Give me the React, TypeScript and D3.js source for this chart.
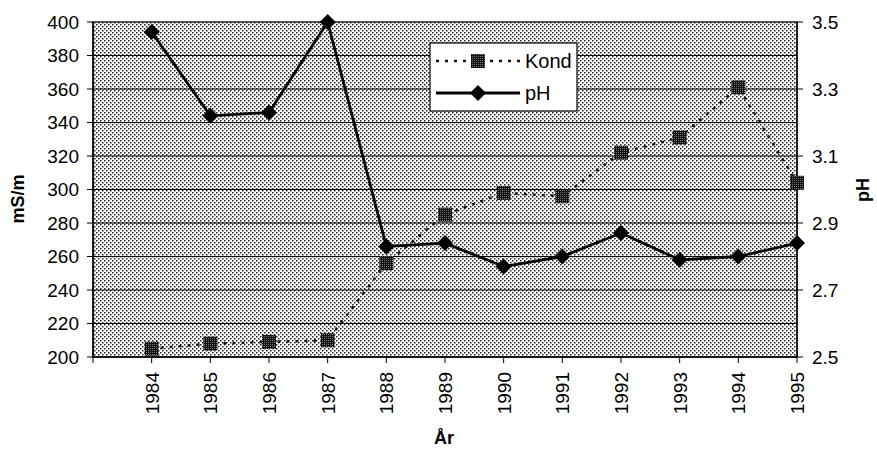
import * as d3 from 'd3';

// years on the category axis
const years = [1984, 1985, 1986, 1987, 1988, 1989, 1990, 1991, 1992, 1993, 1994, 1995];
// conductivity, mS/m (left axis)
const kond = [205, 208, 209, 210, 256, 285, 298, 296, 322, 331, 361, 304];
// pH (right axis)
const ph = [3.47, 3.22, 3.23, 3.5, 2.83, 2.84, 2.77, 2.8, 2.87, 2.79, 2.8, 2.84];

const leftTicks = [200, 220, 240, 260, 280, 300, 320, 340, 360, 380, 400];
const rightTicks = [2.5, 2.7, 2.9, 3.1, 3.3, 3.5];

const W = 877;
const H = 450;
const m = { top: 22, right: 80, bottom: 93, left: 93 };
const font = '"Liberation Sans", Arial, Helvetica, sans-serif';

export default function App() {
  const x = d3.scaleLinear().domain([1983, 1995]).range([m.left, W - m.right]);
  const yL = d3.scaleLinear().domain([200, 400]).range([H - m.bottom, m.top]);
  const yR = d3.scaleLinear().domain([2.5, 3.5]).range([H - m.bottom, m.top]);

  const kondLine = d3
    .line<number>()
    .x((_, i) => x(years[i]))
    .y((d) => yL(d));
  const phLine = d3
    .line<number>()
    .x((_, i) => x(years[i]))
    .y((d) => yR(d));

  const x0 = m.left;
  const x1 = W - m.right;
  const y0 = H - m.bottom;
  const y1 = m.top;
  const sq = 14;
  const dia = 8;
  const diamond = (cx: number, cy: number) =>
    `M${cx},${cy - dia}L${cx + dia},${cy}L${cx},${cy + dia}L${cx - dia},${cy}Z`;

  const lgX = 430;
  const lgY = 43;

  return (
    <svg
      width={W}
      height={H}
      style={{ position: 'absolute', left: 0, top: 0, background: '#fff' }}
      fontFamily={font}
    >
      <defs>
        <pattern id="bg" width="4" height="4" patternUnits="userSpaceOnUse">
          <rect width="4" height="4" fill="#fff" />
          <rect x="0" y="0" width="1.5" height="1.5" fill="#222" />
          <rect x="2" y="2" width="1.5" height="1.5" fill="#222" />
        </pattern>
        <pattern id="mk" width="2" height="2" patternUnits="userSpaceOnUse">
          <rect width="2" height="2" fill="#111" />
          <rect x="0" y="0" width="1" height="1" fill="#777" />
        </pattern>
      </defs>

      {/* plot area */}
      <rect x={x0} y={y1} width={x1 - x0} height={y0 - y1} fill="url(#bg)" />
      {leftTicks.slice(1, -1).map((t) => (
        <line key={t} x1={x0} x2={x1} y1={yL(t)} y2={yL(t)} stroke="#000" strokeWidth={1.2} />
      ))}
      <rect x={x0} y={y1} width={x1 - x0} height={y0 - y1} fill="none" stroke="#222" strokeWidth={1.5} />

      {/* left axis */}
      <line x1={x0} x2={x0} y1={y1} y2={y0} stroke="#000" strokeWidth={1.4} />
      {leftTicks.map((t) => (
        <g key={t}>
          <line x1={x0 - 6} x2={x0} y1={yL(t)} y2={yL(t)} stroke="#000" />
          <text x={79} y={yL(t)} dy="0.36em" textAnchor="end" fontSize={19}>
            {t}
          </text>
        </g>
      ))}
      <text
        transform={`translate(24,199) rotate(-90)`}
        textAnchor="middle"
        fontSize={18}
        fontWeight="bold"
      >
        mS/m
      </text>

      {/* right axis */}
      <line x1={x1} x2={x1} y1={y1} y2={y0} stroke="#000" strokeWidth={1.2} />
      {rightTicks.map((t) => (
        <g key={t}>
          <line x1={x1} x2={x1 + 6} y1={yR(t)} y2={yR(t)} stroke="#000" />
          <text x={812} y={yR(t)} dy="0.36em" textAnchor="start" fontSize={19}>
            {t.toFixed(1)}
          </text>
        </g>
      ))}
      <text
        transform={`translate(869,190) rotate(-90)`}
        textAnchor="middle"
        fontSize={18}
        fontWeight="bold"
      >
        pH
      </text>

      {/* x axis */}
      <line x1={x0} x2={x1} y1={y0} y2={y0} stroke="#000" strokeWidth={1.4} />
      {[1983, ...years].map((yr) => (
        <line key={yr} x1={x(yr)} x2={x(yr)} y1={y0} y2={y0 + 6} stroke="#000" />
      ))}
      {years.map((yr) => (
        <text
          key={yr}
          transform={`translate(${x(yr)},${y0 + 15}) rotate(-90)`}
          textAnchor="end"
          dy="0.36em"
          fontSize={19}
        >
          {yr}
        </text>
      ))}
      <text x={444} y={444} textAnchor="middle" fontSize={18} fontWeight="bold">
        År
      </text>

      {/* Kond series */}
      <path
        d={kondLine(kond) ?? ''}
        fill="none"
        stroke="#111"
        strokeWidth={2.5}
        strokeDasharray="3,6"
      />
      {kond.map((v, i) => (
        <rect
          key={i}
          x={x(years[i]) - sq / 2}
          y={yL(v) - sq / 2}
          width={sq}
          height={sq}
          fill="url(#mk)"
        />
      ))}

      {/* pH series */}
      <path d={phLine(ph) ?? ''} fill="none" stroke="#000" strokeWidth={2.8} strokeLinejoin="round" />
      {ph.map((v, i) => (
        <path key={i} d={diamond(x(years[i]), yR(v))} fill="#000" />
      ))}

      {/* legend */}
      <rect x={lgX} y={lgY} width={147} height={68} fill="#fff" stroke="#000" strokeWidth={1.2} />
      <line
        x1={lgX + 6}
        x2={lgX + 90}
        y1={lgY + 18}
        y2={lgY + 18}
        stroke="#111"
        strokeWidth={2.5}
        strokeDasharray="3,6"
      />
      <rect x={lgX + 48 - sq / 2} y={lgY + 18 - sq / 2} width={sq} height={sq} fill="url(#mk)" />
      <text x={lgX + 95} y={lgY + 18} dy="0.36em" fontSize={20}>
        Kond
      </text>
      <line x1={lgX + 6} x2={lgX + 90} y1={lgY + 50} y2={lgY + 50} stroke="#000" strokeWidth={2.8} />
      <path d={diamond(lgX + 48, lgY + 50)} fill="#000" />
      <text x={lgX + 95} y={lgY + 50} dy="0.36em" fontSize={20}>
        pH
      </text>
    </svg>
  );
}
